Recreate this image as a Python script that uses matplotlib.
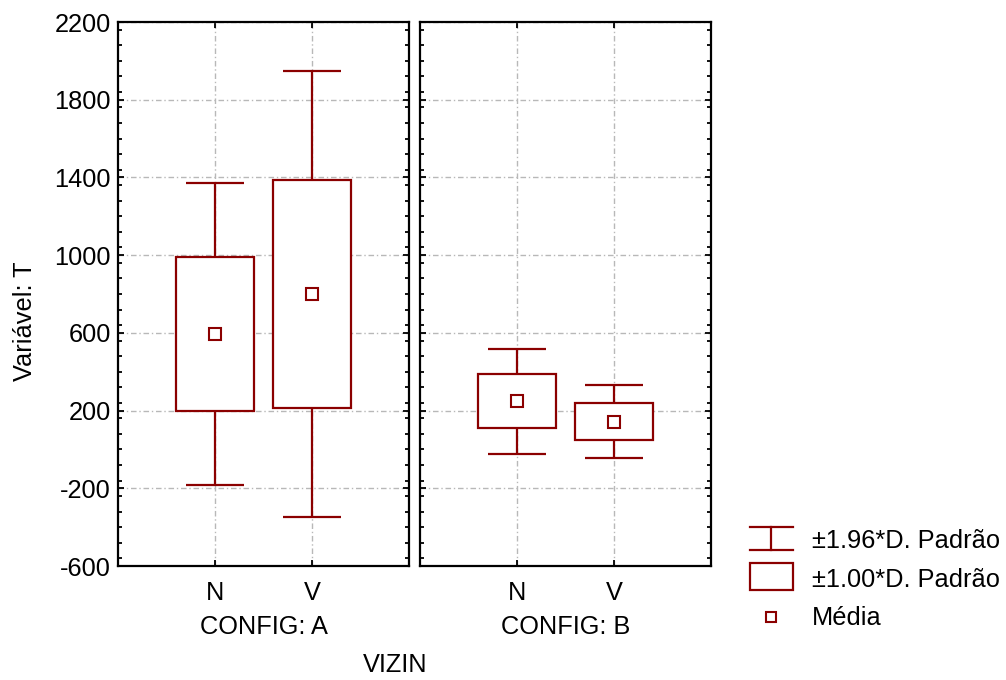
import matplotlib
matplotlib.use("Agg")
import matplotlib.pyplot as plt
from matplotlib.patches import Rectangle
from matplotlib.lines import Line2D
from matplotlib.ticker import MultipleLocator

plt.rcParams['font.family'] = ['Liberation Sans', 'DejaVu Sans']

# Group summary statistics of T by CONFIG and VIZIN
configs = ["A", "B"]
vizin = ["N", "V"]
means_a = [594, 800]
sds_a = [397, 585]
means_b = [247, 143]
sds_b = [139, 96]
means = [means_a, means_b]
sds = [sds_a, sds_b]
whisker_k = 1.96

y_ticks = [-600, -200, 200, 600, 1000, 1400, 1800, 2200]

RED = "#8B0000"
FS = 18.3

fig = plt.figure(figsize=(10.06, 6.80), dpi=100)
W, H = 1006, 680


def px_axes(x0, x1, y0, y1):
    return fig.add_axes([x0 / W, 1 - y1 / H, (x1 - x0) / W, (y1 - y0) / H])


axes = [px_axes(118, 409, 22, 566), px_axes(420, 711, 22, 566)]

for i, ax in enumerate(axes):
    ax.set_xlim(0, 3)
    ax.set_ylim(-600, 2200)
    xs = [1, 2]
    for x, m, s in zip(xs, means[i], sds[i]):
        lo2, hi2 = m - whisker_k * s, m + whisker_k * s
        ax.vlines(x, lo2, hi2, color=RED, lw=1.6, zorder=3)
        ax.hlines([lo2, hi2], x - 0.3, x + 0.3, color=RED, lw=1.6, zorder=3)
        ax.add_patch(Rectangle((x - 0.4, m - s), 0.8, 2 * s, facecolor="white",
                               edgecolor=RED, lw=1.6, zorder=4))
        ax.plot([x], [m], marker="s", ms=8, mfc="white", mec=RED, mew=1.5,
                ls="none", zorder=5)
    ax.set_xticks(xs)
    ax.set_xticklabels(vizin, fontsize=FS)
    ax.set_yticks(y_ticks)
    ax.yaxis.set_minor_locator(MultipleLocator(80))
    ax.grid(True, which="major", color="#b8b8b8", lw=1.0,
            linestyle=(0, (4, 2, 1, 2)), zorder=0)
    ax.tick_params(which="both", direction="in", top=True, right=True,
                   width=1.3, colors="black")
    ax.tick_params(which="major", length=4, pad=5, labelsize=FS)
    ax.tick_params(which="minor", length=3)
    ax.tick_params(axis="x", pad=11)
    for sp in ax.spines.values():
        sp.set_linewidth(1.6)
    ax.set_xlabel("CONFIG: " + configs[i], fontsize=FS, labelpad=7)
    if i == 1:
        ax.set_yticklabels([])
    else:
        ax.set_yticklabels([str(v) for v in y_ticks])

fig.text(25 / W, 1 - 321 / H, "Variável: T", rotation=90, fontsize=FS,
         ha="center", va="center")
fig.text(395 / W, 1 - 665 / H, "VIZIN", fontsize=FS, ha="center", va="center")

# Legend drawn in an overlay axes using pixel coordinates
lg = fig.add_axes([0, 0, 1, 1])
lg.set_xlim(0, W)
lg.set_ylim(H, 0)
lg.axis("off")
lg.add_line(Line2D([750, 793], [527, 527], color=RED, lw=1.6))
lg.add_line(Line2D([750, 793], [550, 550], color=RED, lw=1.6))
lg.add_line(Line2D([771.5, 771.5], [527, 550], color=RED, lw=1.6))
lg.add_patch(Rectangle((750, 563), 43, 27, facecolor="white", edgecolor=RED, lw=1.6))
lg.plot([771.5], [617], marker="s", ms=7, mfc="white", mec=RED, mew=1.5)
lg.text(812, 541, "±1.96*D. Padrão", fontsize=FS, va="center", ha="left")
lg.text(812, 580, "±1.00*D. Padrão", fontsize=FS, va="center", ha="left")
lg.text(812, 618, "Média", fontsize=FS, va="center", ha="left")

fig.savefig("out.png", dpi=100)
